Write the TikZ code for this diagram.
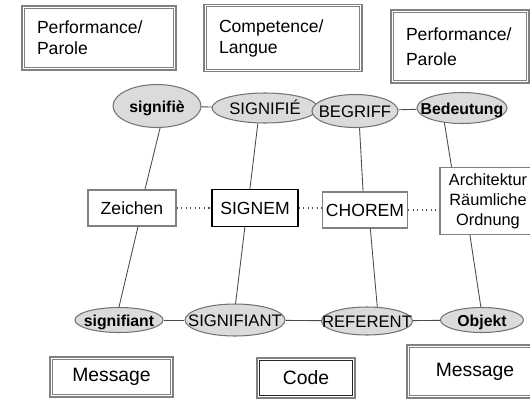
\documentclass[tikz,border=0pt]{standalone}
\usepackage{fontspec}
\setmainfont{Liberation Sans}
\usetikzlibrary{calc,shapes.geometric}
\def\lbl#1{\makebox[0pt]{#1}}

\begin{document}
\begin{tikzpicture}[x=0.02cm, y=-0.02cm,
		frame/.style={draw=black!50, line width=0.6pt, align=left, inner sep=0.3cm},
		inner/.style={draw=black!50, line width=0.6pt},
		plain/.style={draw=black!50, line width=0.6pt, inner sep=0pt, align=center, font=\fontsize{10}{12}\selectfont},
		oval/.style={ellipse, draw=black!55, fill=black!14, line width=0.6pt, inner sep=0pt, text height=1.5ex, text depth=0.2ex},
		lower/.style={oval, font=\fontsize{9}{11}\selectfont\bfseries},
		upper/.style={oval, font=\fontsize{9.5}{11}\selectfont},
		link/.style={draw=black!70, line width=0.5pt},
		dots/.style={draw=black!70, line width=0.6pt, dotted}]
		%%%%% START %%%%%
		\useasboundingbox (0, 0) rectangle (530, 399);
		
		\node[frame, text width=2.48cm, minimum height=1.20cm, font=\fontsize{10}{12}\selectfont] (perfA) at (99, 38) {Performance/\\Parole};
		\node[frame, text width=2.56cm, minimum height=1.20cm, font=\fontsize{10}{12}\selectfont] (competence) at (283, 38) {Competence/\\Langue};
		\node[frame, text width=2.16cm, minimum height=1.46cm, font=\fontsize{10}{14.5}\selectfont] (perfB) at (460, 46.5) {Performance/\\Parole};
		
		\node[lower, minimum width=1.76cm, minimum height=0.86cm] (signifie) at (157, 106) {\lbl{signifiè}};
		\node[upper, minimum width=2.12cm, minimum height=0.60cm] (signifieU) at (265, 108) {\lbl{SIGNIFIÉ}};
		\node[upper, minimum width=1.72cm, minimum height=0.66cm] (begriff) at (355, 111) {\lbl{BEGRIFF}};
		\node[lower, minimum width=1.80cm, minimum height=0.62cm] (bedeutung) at (462, 108) {\lbl{Bedeutung}};
		
		\node[plain, minimum width=1.76cm, minimum height=0.72cm] (zeichen) at (132, 208) {Zeichen};
		\node[plain, draw=black, minimum width=1.72cm, minimum height=0.74cm] (signem) at (255, 208) {SIGNEM};
		\node[plain, minimum width=1.70cm, minimum height=0.72cm] (chorem) at (365, 210) {CHOREM};
		\node[plain, minimum width=1.92cm, minimum height=1.34cm, font=\fontsize{9.3}{11.4}\selectfont] (archi) at (488, 201) {Architektur\\Räumliche\\Ordnung};
		
		\node[lower, minimum width=1.76cm, minimum height=0.50cm] (signifiant) at (119, 320) {\lbl{signifiant}};
		\node[upper, minimum width=2.00cm, minimum height=0.64cm] (signifiantU) at (235, 320) {\lbl{SIGNIFIANT}};
		\node[upper, minimum width=1.82cm, minimum height=0.56cm] (referent) at (367, 321) {\lbl{REFERENT}};
		\node[lower, minimum width=1.66cm, minimum height=0.50cm] (objekt) at (482, 320) {\lbl{Objekt}};
		
		\node[frame, align=center, minimum width=2.46cm, minimum height=0.80cm, inner sep=0pt, font=\fontsize{11}{13}\selectfont] (messageA) at (111.5, 377) {Message};
		\node[frame, align=center, minimum width=1.96cm, minimum height=0.80cm, inner sep=0pt, font=\fontsize{11}{13}\selectfont] (code) at (306, 378) {Code};
		\node[frame, align=center, minimum width=2.72cm, minimum height=1.06cm, inner sep=0pt, font=\fontsize{11}{13}\selectfont] (messageB) at (475, 371.5) {Message};
		
		% inner lines of the framed boxes
		\foreach \b in {perfA, competence, perfB, messageA, messageB}
			\draw[inner] ([shift={(3,3)}]\b.north west) rectangle ([shift={(-3,-3)}]\b.south east);
		\draw[inner, draw=black!85] ([shift={(3,3)}]code.north west) rectangle ([shift={(-3,-3)}]code.south east);
		
		% upper and lower rows
		\draw[link] (signifie) -- (signifieU);
		\draw[link] (begriff) -- (bedeutung);
		\draw[link] (signifiant) -- (signifiantU);
		\draw[link] (signifiantU) -- (referent);
		\draw[link] (referent) -- (objekt);
		
		% columns
		\draw[link] (signifie.-82) -- (zeichen.55);
		\draw[link] (zeichen.-72) -- (signifiant.north);
		\draw[link] (signifieU.-115) -- (signem.105);
		\draw[link] (signem.-118) -- (signifiantU.88);
		\draw[link] (begriff.-75) -- (chorem.96);
		\draw[link] (chorem.-74) -- (referent.54);
		\draw[link] (bedeutung.-140) -- (archi.137);
		\draw[link] (archi.-118) -- (objekt.95);
		
		% middle row
		\draw[dots] (zeichen) -- (signem);
		\draw[dots] (signem.east) -- (chorem.west |- signem.east);
		\draw[dots] (chorem.east) -- (chorem.east -| archi.west);
		%%%%% END %%%%%
\end{tikzpicture}
\end{document}
